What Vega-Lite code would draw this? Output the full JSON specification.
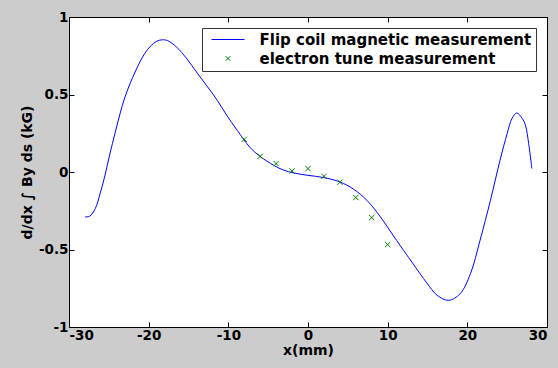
{
  "$schema": "https://vega.github.io/schema/vega-lite/v6.json",
  "width": 478,
  "height": 310,
  "autosize": {"type": "none"},
  "padding": {"left": 69, "top": 17, "right": 11, "bottom": 41},
  "background": "#cccccc",
  "view": {"fill": "white", "stroke": "black", "strokeWidth": 1},
  "config": {
    "axis": {
      "domain": false,
      "grid": false,
      "ticks": true,
      "tickColor": "black",
      "tickSize": 5,
      "offset": -5,
      "labelFont": "DejaVu Sans",
      "labelFontWeight": "bold",
      "labelFontSize": 13.5,
      "labelColor": "black",
      "titleFont": "DejaVu Sans",
      "titleFontWeight": "bold",
      "titleFontSize": 14,
      "titleColor": "black"
    }
  },
  "datasets": {
    "curve": [
      {"x": -28.0, "y": -0.29, "series": "Flip coil magnetic measurement"},
      {"x": -27.4, "y": -0.285, "series": "Flip coil magnetic measurement"},
      {"x": -26.7, "y": -0.236, "series": "Flip coil magnetic measurement"},
      {"x": -26.1, "y": -0.14, "series": "Flip coil magnetic measurement"},
      {"x": -25.5, "y": -0.025, "series": "Flip coil magnetic measurement"},
      {"x": -24.9, "y": 0.11, "series": "Flip coil magnetic measurement"},
      {"x": -24.2, "y": 0.255, "series": "Flip coil magnetic measurement"},
      {"x": -23.6, "y": 0.375, "series": "Flip coil magnetic measurement"},
      {"x": -23.0, "y": 0.48, "series": "Flip coil magnetic measurement"},
      {"x": -22.3, "y": 0.575, "series": "Flip coil magnetic measurement"},
      {"x": -21.7, "y": 0.645, "series": "Flip coil magnetic measurement"},
      {"x": -21.1, "y": 0.71, "series": "Flip coil magnetic measurement"},
      {"x": -20.5, "y": 0.764, "series": "Flip coil magnetic measurement"},
      {"x": -19.8, "y": 0.81, "series": "Flip coil magnetic measurement"},
      {"x": -19.0, "y": 0.843, "series": "Flip coil magnetic measurement"},
      {"x": -18.3, "y": 0.853, "series": "Flip coil magnetic measurement"},
      {"x": -17.6, "y": 0.847, "series": "Flip coil magnetic measurement"},
      {"x": -16.5, "y": 0.806, "series": "Flip coil magnetic measurement"},
      {"x": -15.2, "y": 0.73, "series": "Flip coil magnetic measurement"},
      {"x": -14.0, "y": 0.645, "series": "Flip coil magnetic measurement"},
      {"x": -12.7, "y": 0.556, "series": "Flip coil magnetic measurement"},
      {"x": -11.4, "y": 0.463, "series": "Flip coil magnetic measurement"},
      {"x": -10.2, "y": 0.366, "series": "Flip coil magnetic measurement"},
      {"x": -8.9, "y": 0.27, "series": "Flip coil magnetic measurement"},
      {"x": -7.3, "y": 0.16, "series": "Flip coil magnetic measurement"},
      {"x": -6.0, "y": 0.1, "series": "Flip coil magnetic measurement"},
      {"x": -4.3, "y": 0.043, "series": "Flip coil magnetic measurement"},
      {"x": -3.1, "y": 0.013, "series": "Flip coil magnetic measurement"},
      {"x": -1.8, "y": -0.006, "series": "Flip coil magnetic measurement"},
      {"x": -0.1, "y": -0.021, "series": "Flip coil magnetic measurement"},
      {"x": 2.0, "y": -0.036, "series": "Flip coil magnetic measurement"},
      {"x": 4.0, "y": -0.064, "series": "Flip coil magnetic measurement"},
      {"x": 5.7, "y": -0.11, "series": "Flip coil magnetic measurement"},
      {"x": 7.4, "y": -0.183, "series": "Flip coil magnetic measurement"},
      {"x": 9.1, "y": -0.29, "series": "Flip coil magnetic measurement"},
      {"x": 10.7, "y": -0.41, "series": "Flip coil magnetic measurement"},
      {"x": 12.4, "y": -0.535, "series": "Flip coil magnetic measurement"},
      {"x": 13.3, "y": -0.6, "series": "Flip coil magnetic measurement"},
      {"x": 14.9, "y": -0.715, "series": "Flip coil magnetic measurement"},
      {"x": 16.2, "y": -0.795, "series": "Flip coil magnetic measurement"},
      {"x": 17.65, "y": -0.828, "series": "Flip coil magnetic measurement"},
      {"x": 19.1, "y": -0.785, "series": "Flip coil magnetic measurement"},
      {"x": 20.4, "y": -0.655, "series": "Flip coil magnetic measurement"},
      {"x": 21.6, "y": -0.44, "series": "Flip coil magnetic measurement"},
      {"x": 22.9, "y": -0.183, "series": "Flip coil magnetic measurement"},
      {"x": 24.1, "y": 0.075, "series": "Flip coil magnetic measurement"},
      {"x": 25.0, "y": 0.248, "series": "Flip coil magnetic measurement"},
      {"x": 25.6, "y": 0.345, "series": "Flip coil magnetic measurement"},
      {"x": 26.2, "y": 0.381, "series": "Flip coil magnetic measurement"},
      {"x": 26.9, "y": 0.345, "series": "Flip coil magnetic measurement"},
      {"x": 27.3, "y": 0.301, "series": "Flip coil magnetic measurement"},
      {"x": 27.7, "y": 0.183, "series": "Flip coil magnetic measurement"},
      {"x": 28.1, "y": 0.022, "series": "Flip coil magnetic measurement"}
    ],
    "points": [
      {"x": -8, "y": 0.211, "series": "electron tune measurement"},
      {"x": -6, "y": 0.101, "series": "electron tune measurement"},
      {"x": -4, "y": 0.054, "series": "electron tune measurement"},
      {"x": -2, "y": 0.006, "series": "electron tune measurement"},
      {"x": 0, "y": 0.022, "series": "electron tune measurement"},
      {"x": 2, "y": -0.028, "series": "electron tune measurement"},
      {"x": 4, "y": -0.066, "series": "electron tune measurement"},
      {"x": 6, "y": -0.165, "series": "electron tune measurement"},
      {"x": 8, "y": -0.294, "series": "electron tune measurement"},
      {"x": 10, "y": -0.468, "series": "electron tune measurement"}
    ]
  },
  "resolve": {"axis": {"x": "independent", "y": "independent"}},
  "layer": [
    {
      "data": {"name": "curve"},
      "mark": {"type": "line", "strokeWidth": 1, "interpolate": "catmull-rom"},
      "encoding": {
        "x": {
          "field": "x", "type": "quantitative",
          "scale": {"domain": [-30, 30], "nice": false, "zero": false},
          "axis": {"values": [-30, -20, -10, 0, 10, 20, 30], "labelExpr": "datum.value + ''", "labelPadding": 1, "title": "x(mm)", "titlePadding": 2}
        },
        "y": {
          "field": "y", "type": "quantitative",
          "scale": {"domain": [-1, 1], "nice": false, "zero": false},
          "axis": {"values": [-1, -0.5, 0, 0.5, 1], "labelExpr": "datum.value + ''", "labelPadding": 1, "title": "d/dx ∫ By ds (kG)", "titlePadding": 4}
        },
        "color": {
          "field": "series", "type": "nominal",
          "scale": {"domain": ["Flip coil magnetic measurement", "electron tune measurement"], "range": ["#0000ff", "#008000"]},
          "legend": {
            "title": null,
            "orient": "top-right",
            "offset": 11,
            "padding": 4,
            "rowPadding": 3,
            "fillColor": "white",
            "strokeColor": "#333333",
            "symbolSize": 36,
            "labelOffset": 38.5,
            "labelLimit": 500,
            "labelFont": "DejaVu Sans",
            "labelFontWeight": "bold",
            "labelFontSize": 15,
            "labelColor": "black",
            "encode": {
              "symbols": {
                "update": {
                  "x": {"value": 22},
                  "shape": {"signal": "datum.value === 'Flip coil magnetic measurement' ? 'M-5.5,0H5.5' : 'M-0.8,-0.8L0.8,0.8M0.8,-0.8L-0.8,0.8'"},
                  "stroke": {"signal": "datum.value === 'Flip coil magnetic measurement' ? '#0000ff' : '#008000'"},
                  "fill": {"value": "transparent"},
                  "strokeWidth": {"value": 1},
                  "opacity": {"value": 1}
                }
              }
            }
          }
        }
      }
    },
    {
      "data": {"name": "points"},
      "mark": {"type": "point", "shape": "M-1,-1L1,1M1,-1L-1,1", "filled": false, "size": 28, "strokeWidth": 1, "opacity": 1},
      "encoding": {
        "x": {
          "field": "x", "type": "quantitative",
          "axis": {"orient": "top", "values": [-30, -20, -10, 0, 10, 20, 30], "labels": false, "title": null}
        },
        "y": {
          "field": "y", "type": "quantitative",
          "axis": {"orient": "right", "values": [-1, -0.5, 0, 0.5, 1], "labels": false, "title": null}
        },
        "color": {"field": "series", "type": "nominal"}
      }
    }
  ]
}
